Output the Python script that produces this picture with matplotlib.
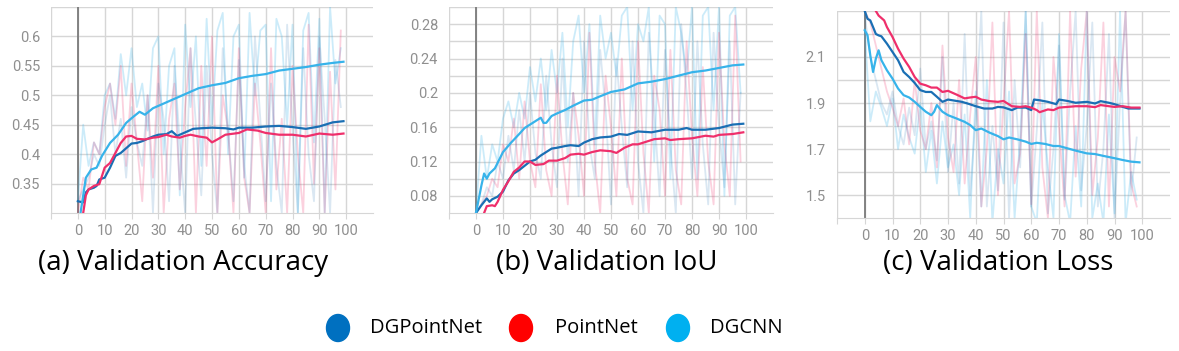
import numpy as np
import matplotlib
matplotlib.use("Agg")
import matplotlib.pyplot as plt
from matplotlib.patches import Ellipse

# ---- data ----
raw_ep = list(range(0, 100, 2))

# (a) validation accuracy
acc_raw_dgcnn = [0.32, 0.45, 0.38, 0.42, 0.40, 0.50, 0.52, 0.46, 0.57, 0.50, 0.58, 0.48, 0.52, 0.44, 0.58,
                 0.60, 0.40, 0.55, 0.58, 0.33, 0.62, 0.48, 0.60, 0.38, 0.63, 0.45, 0.61, 0.64, 0.40, 0.60,
                 0.62, 0.36, 0.64, 0.50, 0.61, 0.62, 0.32, 0.63, 0.60, 0.45, 0.62, 0.30, 0.61, 0.64, 0.42,
                 0.63, 0.30, 0.65, 0.52, 0.58]
acc_raw_dgpn = [0.32, 0.34, 0.36, 0.40, 0.38, 0.45, 0.50, 0.40, 0.46, 0.36, 0.48, 0.42, 0.38, 0.50, 0.30,
                0.52, 0.46, 0.32, 0.55, 0.42, 0.30, 0.58, 0.45, 0.33, 0.55, 0.40, 0.30, 0.58, 0.44, 0.32,
                0.56, 0.38, 0.30, 0.60, 0.46, 0.32, 0.52, 0.38, 0.30, 0.62, 0.44, 0.30, 0.58, 0.40, 0.32,
                0.60, 0.46, 0.30, 0.56, 0.48]
acc_raw_pn = [0.30, 0.36, 0.34, 0.42, 0.40, 0.48, 0.52, 0.45, 0.55, 0.38, 0.52, 0.42, 0.32, 0.50, 0.36,
              0.55, 0.30, 0.46, 0.52, 0.34, 0.48, 0.58, 0.30, 0.55, 0.38, 0.60, 0.30, 0.50, 0.44, 0.30,
              0.58, 0.36, 0.30, 0.52, 0.42, 0.30, 0.58, 0.34, 0.46, 0.30, 0.55, 0.40, 0.30, 0.62, 0.35,
              0.58, 0.30, 0.54, 0.34, 0.61]

acc_dgcnn_ep = [1, 3, 5, 7, 9, 12, 15, 18, 20, 23, 25, 28, 30, 35, 40, 45, 50, 55, 60, 65, 70, 75, 80, 85, 90, 95, 99]
acc_dgcnn = [0.30, 0.36, 0.374, 0.377, 0.397, 0.419, 0.433, 0.453, 0.461, 0.472, 0.467, 0.478, 0.482, 0.492,
             0.502, 0.512, 0.517, 0.521, 0.529, 0.533, 0.536, 0.542, 0.545, 0.548, 0.552, 0.555, 0.557]
acc_dgpn_ep = [0, 2, 3, 4, 6, 7, 8, 10, 12, 14, 16, 18, 20, 22, 24, 26, 28, 30, 33, 35, 37, 40, 43, 46, 50,
               55, 58, 60, 65, 70, 75, 80, 85, 90, 95, 99]
acc_dgpn = [0.32, 0.318, 0.335, 0.34, 0.343, 0.346, 0.357, 0.36, 0.377, 0.397, 0.402, 0.41, 0.418, 0.419,
            0.422, 0.426, 0.43, 0.433, 0.434, 0.439, 0.431, 0.437, 0.443, 0.444, 0.445, 0.444, 0.442, 0.445,
            0.445, 0.447, 0.448, 0.446, 0.443, 0.447, 0.454, 0.456]
acc_pn_ep = [2, 3, 4, 6, 8, 10, 12, 14, 16, 18, 20, 22, 25, 28, 30, 33, 35, 38, 40, 42, 45, 48, 50, 52, 55,
             60, 63, 67, 70, 75, 80, 85, 90, 95, 99]
acc_pn = [0.30, 0.33, 0.34, 0.346, 0.349, 0.377, 0.385, 0.402, 0.419, 0.43, 0.431, 0.426, 0.425, 0.428, 0.429,
          0.433, 0.43, 0.428, 0.431, 0.433, 0.43, 0.428, 0.42, 0.425, 0.433, 0.436, 0.442, 0.44, 0.436, 0.433,
          0.433, 0.43, 0.435, 0.433, 0.435]

# (b) validation IoU
iou_raw_dgcnn = [0.06, 0.15, 0.10, 0.14, 0.12, 0.17, 0.19, 0.16, 0.20, 0.17, 0.23, 0.19, 0.24, 0.18, 0.25,
                 0.20, 0.27, 0.16, 0.26, 0.29, 0.20, 0.28, 0.14, 0.29, 0.24, 0.27, 0.22, 0.29, 0.30, 0.18,
                 0.28, 0.26, 0.30, 0.12, 0.29, 0.28, 0.10, 0.30, 0.27, 0.22, 0.30, 0.10, 0.29, 0.30, 0.18,
                 0.30, 0.08, 0.29, 0.30, 0.20]
iou_raw_dgpn = [0.06, 0.07, 0.09, 0.08, 0.12, 0.10, 0.15, 0.11, 0.18, 0.12, 0.20, 0.13, 0.10, 0.22, 0.14,
                0.09, 0.24, 0.12, 0.20, 0.08, 0.26, 0.14, 0.10, 0.25, 0.18, 0.07, 0.24, 0.16, 0.09, 0.26,
                0.12, 0.06, 0.27, 0.18, 0.08, 0.25, 0.14, 0.06, 0.28, 0.20, 0.10, 0.26, 0.14, 0.07, 0.27,
                0.16, 0.09, 0.26, 0.07, 0.20]
iou_raw_pn = [0.06, 0.07, 0.08, 0.10, 0.09, 0.14, 0.12, 0.17, 0.10, 0.19, 0.12, 0.09, 0.21, 0.11, 0.08,
              0.22, 0.13, 0.07, 0.20, 0.15, 0.08, 0.27, 0.12, 0.06, 0.22, 0.16, 0.08, 0.24, 0.10, 0.07,
              0.26, 0.13, 0.06, 0.22, 0.18, 0.08, 0.25, 0.11, 0.07, 0.26, 0.15, 0.08, 0.23, 0.12, 0.07,
              0.27, 0.14, 0.08, 0.29, 0.12]

iou_dgcnn_ep = [0, 2, 3, 4, 5, 7, 10, 13, 16, 18, 20, 22, 24, 25, 26, 28, 30, 33, 36, 40, 43, 46, 50, 55, 60,
                65, 70, 75, 80, 85, 90, 95, 99]
iou_dgcnn = [0.06, 0.092, 0.106, 0.10, 0.106, 0.112, 0.131, 0.142, 0.152, 0.159, 0.163, 0.167, 0.171, 0.165,
             0.165, 0.173, 0.176, 0.18, 0.185, 0.191, 0.192, 0.196, 0.201, 0.204, 0.211, 0.213, 0.216, 0.22,
             0.224, 0.226, 0.229, 0.232, 0.233]
iou_dgpn_ep = [0, 2, 4, 5, 6, 8, 10, 12, 14, 16, 18, 20, 22, 24, 26, 28, 30, 33, 35, 38, 40, 43, 46, 50, 53,
               56, 60, 65, 70, 75, 78, 80, 85, 90, 95, 99]
iou_dgpn = [0.06, 0.069, 0.077, 0.073, 0.076, 0.079, 0.085, 0.098, 0.106, 0.11, 0.115, 0.12, 0.122, 0.127,
            0.131, 0.135, 0.136, 0.138, 0.139, 0.138, 0.142, 0.146, 0.148, 0.149, 0.152, 0.151, 0.155, 0.154,
            0.157, 0.157, 0.159, 0.157, 0.157, 0.159, 0.163, 0.164]
iou_pn_ep = [3, 4, 6, 7, 8, 10, 12, 14, 16, 18, 20, 22, 25, 27, 30, 33, 35, 38, 40, 43, 46, 50, 52, 55, 58,
             60, 63, 66, 70, 72, 75, 80, 85, 88, 90, 95, 99]
iou_pn = [0.06, 0.068, 0.069, 0.068, 0.073, 0.087, 0.097, 0.108, 0.113, 0.12, 0.12, 0.116, 0.117, 0.121, 0.121,
          0.124, 0.128, 0.129, 0.128, 0.131, 0.133, 0.132, 0.13, 0.136, 0.14, 0.14, 0.143, 0.146, 0.147, 0.145,
          0.146, 0.147, 0.15, 0.149, 0.151, 0.152, 0.154]

# (c) validation loss
loss_raw_dgcnn = [2.22, 1.82, 1.95, 1.88, 1.80, 1.92, 1.70, 1.85, 1.75, 1.68, 1.90, 1.60, 1.78, 1.55, 1.82,
                  1.62, 1.72, 1.50, 1.85, 1.40, 1.95, 1.45, 2.00, 1.38, 1.70, 1.55, 1.95, 1.40, 1.75, 2.30,
                  1.45, 1.38, 1.90, 1.62, 1.40, 2.20, 1.50, 1.38, 1.80, 1.45, 2.30, 1.40, 1.55, 1.38, 1.85,
                  1.42, 2.30, 1.38, 1.60, 1.48]
loss_raw_dgpn = [2.28, 2.10, 2.00, 1.90, 1.85, 1.95, 1.80, 1.72, 1.88, 1.76, 2.05, 1.70, 1.82, 1.65, 2.10,
                 1.60, 1.90, 1.55, 2.20, 1.50, 1.85, 2.30, 1.45, 1.80, 1.52, 2.25, 1.40, 2.00, 1.62, 2.30,
                 1.45, 1.78, 2.25, 1.42, 1.70, 2.15, 1.48, 1.95, 2.30, 1.52, 1.80, 2.25, 1.45, 1.70, 2.20,
                 1.40, 1.90, 2.30, 1.50, 1.75]
loss_raw_pn = [2.30, 2.25, 2.15, 2.05, 1.95, 1.88, 1.80, 1.92, 1.72, 2.00, 1.78, 1.70, 1.90, 1.62, 2.15,
               1.75, 1.60, 2.00, 1.55, 1.85, 2.10, 1.45, 1.70, 2.25, 1.50, 1.90, 2.30, 1.55, 1.68, 2.20,
               1.46, 2.30, 1.62, 1.40, 2.10, 1.80, 1.45, 2.30, 1.58, 2.05, 2.30, 1.50, 1.75, 2.25, 1.45,
               2.10, 1.95, 2.30, 1.55, 1.45]

loss_dgcnn_ep = [0, 1, 2, 3, 4, 5, 6, 8, 10, 12, 14, 16, 18, 20, 22, 24, 25, 26, 27, 28, 30, 33, 36, 38, 40,
                 42, 45, 48, 50, 52, 55, 58, 60, 62, 65, 68, 70, 73, 76, 80, 83, 86, 90, 93, 96, 99]
loss_dgcnn = [2.216, 2.194, 2.107, 2.035, 2.093, 2.129, 2.086, 2.042, 2.006, 1.963, 1.934, 1.924, 1.905, 1.883,
              1.862, 1.847, 1.862, 1.891, 1.876, 1.862, 1.847, 1.833, 1.818, 1.804, 1.782, 1.789, 1.771, 1.756,
              1.742, 1.75, 1.742, 1.732, 1.722, 1.727, 1.722, 1.713, 1.713, 1.703, 1.693, 1.681, 1.678, 1.67,
              1.66, 1.652, 1.645, 1.642]
loss_dgpn_ep = [0, 1, 2, 3, 4, 5, 6, 8, 10, 12, 14, 16, 18, 20, 22, 24, 26, 28, 30, 33, 35, 37, 40, 43, 46,
                48, 50, 53, 55, 58, 60, 61, 63, 66, 69, 70, 73, 76, 80, 83, 85, 88, 90, 93, 95, 99]
loss_dgpn = [2.30, 2.266, 2.259, 2.23, 2.20, 2.194, 2.19, 2.158, 2.122, 2.086, 2.035, 2.013, 1.987, 1.956,
             1.948, 1.948, 1.927, 1.905, 1.915, 1.909, 1.905, 1.898, 1.886, 1.876, 1.876, 1.883, 1.881, 1.869,
             1.88, 1.88, 1.869, 1.915, 1.912, 1.905, 1.895, 1.915, 1.909, 1.901, 1.905, 1.898, 1.908, 1.901,
             1.895, 1.883, 1.876, 1.876]
loss_pn_ep = [4, 5, 7, 8, 10, 12, 14, 16, 18, 20, 22, 24, 26, 28, 30, 33, 36, 38, 40, 42, 45, 48, 50, 53, 56,
              58, 60, 62, 63, 66, 68, 70, 73, 76, 80, 83, 85, 88, 90, 93, 96, 99]
loss_pn = [2.30, 2.28, 2.259, 2.23, 2.187, 2.136, 2.093, 2.057, 2.013, 1.984, 1.977, 1.967, 1.967, 1.948, 1.953,
           1.937, 1.92, 1.924, 1.927, 1.915, 1.908, 1.905, 1.909, 1.886, 1.883, 1.886, 1.88, 1.869, 1.86, 1.872,
           1.869, 1.88, 1.883, 1.886, 1.886, 1.882, 1.891, 1.886, 1.883, 1.886, 1.88, 1.88]

names = ["DGPointNet", "PointNet", "DGCNN"]
legend_colors = ["#0070C0", "#FF0000", "#00B0F0"]
line_colors = {"DGPointNet": "#1a6fb4", "PointNet": "#ef2f6b", "DGCNN": "#37b3ea"}
raw_alpha = {"DGPointNet": 0.16, "PointNet": 0.22, "DGCNN": 0.25}

captions = ["(a) Validation Accuracy", "(b) Validation IoU", "(c) Validation Loss"]

# ---- figure ----
W, H = 1179, 351
fig = plt.figure(figsize=(W / 100, H / 100), dpi=100)


def px_axes(left, right, top, bottom):
    return fig.add_axes([left / W, 1 - bottom / H, (right - left) / W, (bottom - top) / H])


grid_c = "#d6d6d6"
tick_c = "#8f8f8f"


def style(ax, ylim, yticks, ylabels):
    ax.set_xlim(-10, 110)
    ax.set_ylim(*ylim)
    ax.set_xticks(range(-10, 101, 10))
    ax.set_xticklabels([""] + [str(v) for v in range(0, 101, 10)])
    ax.set_yticks(yticks)
    ax.set_yticklabels(ylabels)
    ax.grid(True, color=grid_c, linewidth=1.0)
    ax.set_axisbelow(True)
    for s in ["top", "right", "left"]:
        ax.spines[s].set_visible(False)
    ax.spines["bottom"].set_color(grid_c)
    ax.tick_params(axis="x", colors=grid_c, labelcolor=tick_c, length=4, labelsize=10.5, pad=4)
    ax.tick_params(axis="y", length=0, labelcolor=tick_c, labelsize=10.5, pad=8)
    for lab in ax.get_xticklabels() + ax.get_yticklabels():
        lab.set_family("Roboto")
    ax.axvline(0, color="#7a7a7a", linewidth=1.3, zorder=1)


def draw(ax, raws, smooths):
    for name, r in zip(["DGCNN", "PointNet", "DGPointNet"], raws):
        ax.plot(raw_ep, r, color=line_colors[name], alpha=raw_alpha[name], linewidth=1.3, zorder=2)
    for name, (ep, v) in zip(["DGPointNet", "PointNet", "DGCNN"], smooths):
        ax.plot(ep, v, color=line_colors[name], linewidth=1.6, zorder=3)


ax1 = px_axes(51, 373, 7, 213)
draw(ax1, [acc_raw_dgcnn, acc_raw_pn, acc_raw_dgpn],
     [(acc_dgpn_ep, acc_dgpn), (acc_pn_ep, acc_pn), (acc_dgcnn_ep, acc_dgcnn)])
t1 = [0.35, 0.40, 0.45, 0.50, 0.55, 0.60, 0.65]
style(ax1, (0.30, 0.65), t1, ["0.35", "0.4", "0.45", "0.5", "0.55", "0.6", ""])

ax2 = px_axes(449, 773, 7, 213)
draw(ax2, [iou_raw_dgcnn, iou_raw_pn, iou_raw_dgpn],
     [(iou_dgpn_ep, iou_dgpn), (iou_pn_ep, iou_pn), (iou_dgcnn_ep, iou_dgcnn)])
t2 = [0.08, 0.10, 0.12, 0.14, 0.16, 0.18, 0.20, 0.22, 0.24, 0.26, 0.28, 0.30]
l2 = ["0.08", "", "0.12", "", "0.16", "", "0.2", "", "0.24", "", "0.28", ""]
style(ax2, (0.06, 0.30), t2, l2)

ax3 = px_axes(837, 1170, 11, 218)
draw(ax3, [loss_raw_dgcnn, loss_raw_pn, loss_raw_dgpn],
     [(loss_dgpn_ep, loss_dgpn), (loss_pn_ep, loss_pn), (loss_dgcnn_ep, loss_dgcnn)])
t3 = [1.5, 1.6, 1.7, 1.8, 1.9, 2.0, 2.1, 2.2, 2.3]
l3 = ["1.5", "", "1.7", "", "1.9", "", "2.1", "", ""]
style(ax3, (1.40, 2.30), t3, l3)

# overlay for captions and legend, in pixel coordinates
ov = fig.add_axes([0, 0, 1, 1])
ov.set_xlim(0, W)
ov.set_ylim(H, 0)
ov.axis("off")
ov.patch.set_alpha(0)

cap_font = ["Open Sans", "DejaVu Sans"]
for x, txt in zip([183, 607, 998], captions):
    ov.text(x, 263, txt, ha="center", va="center", fontsize=20, family=cap_font, color="black")

for cx, tx, name, c in zip([338, 521, 678], [370, 555, 710], names, legend_colors):
    ov.add_patch(Ellipse((cx, 328), 23, 27, color=c))
    ov.text(tx, 328, name, ha="left", va="center", fontsize=14.5, family=cap_font, color="black")

fig.savefig("out.png", dpi=100)
